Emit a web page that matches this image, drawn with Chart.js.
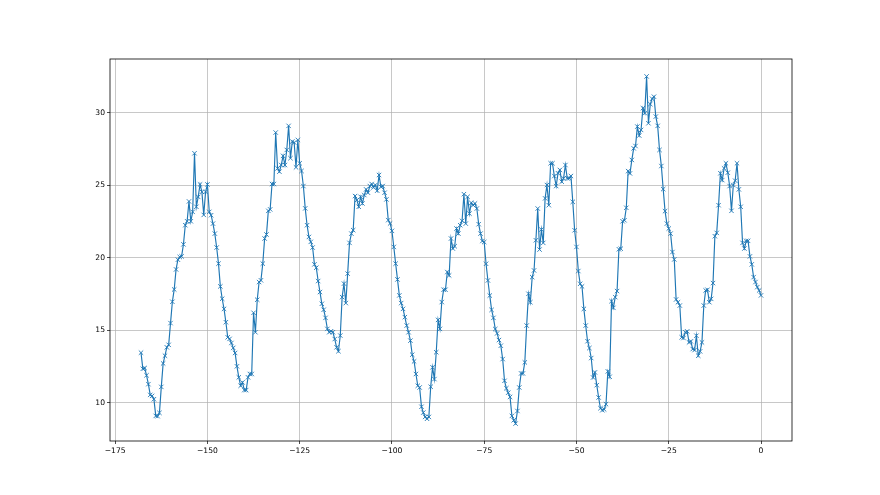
<!DOCTYPE html>
<html>
<head>
<meta charset="utf-8">
<script src="https://cdn.jsdelivr.net/npm/chart.js@4.4.1/dist/chart.umd.min.js"></script>
<style>
  html, body { margin: 0; padding: 0; background: #fff; }
  #wrap { width: 880px; height: 495px; }
</style>
</head>
<body>
<div id="wrap"><canvas id="myChart" width="880" height="495"></canvas></div>
<script>
// half-hourly readings, last 7 days (hours before now)
var tStart = -168;
var tStep = 0.5;
var values = [
  13.46, 12.35, 12.4, 11.9, 11.29, 10.55, 10.48, 10.25, 9.1, 9.08, 9.31, 11.1, 12.72, 13.25, 13.83, 14.0,
  15.5, 16.97, 17.82, 19.2, 19.87, 20.06, 20.1, 20.93, 22.25, 22.52, 23.89, 22.52, 23.17, 27.21, 23.52, 24.2,
  25.06, 24.55, 22.96, 24.55, 25.06, 23.17, 22.94, 22.36,
  21.67, 20.71, 19.6, 18.03, 17.18, 16.48, 15.56, 14.52, 14.41, 14.13, 13.79, 13.44, 12.52, 11.76, 11.18, 11.41,
  10.88, 10.88, 11.76, 11.99, 11.99, 16.21, 14.87, 17.11, 18.33, 18.45, 19.6, 21.33, 21.61, 23.24, 23.34, 25.09,
  25.09, 28.64, 26.17, 25.94, 26.4, 27.03, 26.4, 27.44, 29.1, 26.87, 28.02,
  27.95, 26.24, 28.13, 26.52, 25.99, 24.95, 23.41, 22.25, 21.44, 21.1, 20.71, 19.55, 19.32, 18.4, 17.64, 16.83,
  16.42, 15.86, 15.1, 14.87, 14.94, 14.87, 14.4, 13.83, 13.56, 14.64, 17.29, 18.22, 16.88, 18.91, 21.03, 21.67,
  21.91, 24.26, 23.98, 23.52, 24.21, 23.75, 24.33, 24.72, 24.49, 24.95, 25.09, 24.86, 25.02,
  24.63, 25.71, 24.9, 24.95, 24.49, 24.03, 22.6, 22.37, 21.86, 20.75, 19.6, 18.51, 17.41, 16.88, 16.48, 15.91,
  15.33, 14.87, 14.29, 13.32, 12.86, 11.99, 11.18, 11.06, 9.73, 9.33, 9.03, 8.9, 9.03, 11.11, 12.45, 11.64,
  13.49, 15.72, 15.1, 16.95, 17.8, 17.8, 19.02, 18.79, 21.33, 20.64, 20.8, 22.02,
  21.67, 22.25, 22.55, 24.39, 22.36, 24.21, 23.05, 23.79, 23.63, 23.75, 23.4, 22.32, 21.67, 21.16, 21.09, 19.59,
  18.44, 17.4, 16.41, 15.86, 15.09, 14.79, 14.33, 13.94, 13.02, 11.52, 11.01, 10.7, 10.41, 9.1, 8.8, 8.57,
  9.44, 11.06, 12.03, 12.03, 12.79, 15.33, 17.52, 16.94, 18.67, 19.13, 21.21, 23.4,
  20.57, 21.95, 21.03, 24.1, 25.02, 23.63, 26.52, 26.52, 25.64, 24.95, 25.83, 26.06, 25.25, 25.48, 26.4, 25.48,
  25.48, 25.64, 23.86, 21.9, 20.75, 19.09, 18.21, 18.03, 16.48, 15.33, 14.25, 13.78, 13.09, 11.75, 12.1, 11.22,
  10.37, 9.63, 9.49, 9.55, 9.91, 12.17, 11.8, 17.01, 16.55, 17.29, 17.71,
  20.59, 20.63, 22.52, 22.59, 23.45, 25.98, 25.82, 26.75, 27.55, 27.71, 29.05, 28.43, 28.82, 30.32, 29.98, 32.51,
  29.28, 30.6, 30.97, 31.11, 29.74, 29.1, 27.44, 26.33, 24.74, 23.22, 22.36, 22.02, 21.67, 20.4, 19.89, 17.13,
  16.94, 16.71, 14.52, 14.47, 14.86, 14.93, 14.17, 14.24, 13.71, 13.64, 14.63, 13.25, 13.55, 14.17,
  16.71, 17.75, 17.8, 16.94, 17.17, 18.26, 21.49, 21.72, 23.63, 25.83, 25.36, 26.17, 26.52, 25.87, 24.95, 23.24,
  25.02, 25.32, 26.52, 24.72, 23.52, 21.03, 20.64, 21.17, 21.17, 20.1, 19.55, 18.67, 18.33, 17.98, 17.75, 17.41
];
var xTicks = [-175, -150, -125, -100, -75, -50, -25, 0];
var yTicks = [10, 15, 20, 25, 30];

var points = values.map(function (v, i) {
  return { x: tStart + i * tStep, y: v };
});

// matplotlib style: box around the axes
var frame = {
  id: "frame",
  afterDraw: function (chart) {
    var a = chart.chartArea;
    var c = chart.ctx;
    c.save();
    c.strokeStyle = "#000";
    c.lineWidth = 0.8;
    c.strokeRect(a.left, a.top, a.right - a.left, a.bottom - a.top);
    c.restore();
  },
};

var tickFont = { family: "DejaVu Sans", size: 7.6 };

const ctx = document.getElementById("myChart").getContext("2d");

const myChart = new Chart(ctx, {
  type: "line",
  data: {
    datasets: [
      {
        data: points,
        borderColor: "#1f77b4",
        borderWidth: 1.15,
        pointStyle: "crossRot",
        pointRadius: 3.1,
        pointBorderWidth: 0.9,
        pointBorderColor: "#1f77b4",
        pointBackgroundColor: "#1f77b4",
        tension: 0,
        fill: false,
      },
    ],
  },
  options: {
    responsive: false,
    animation: false,
    devicePixelRatio: 1,
    layout: { padding: { top: 59, right: 88, bottom: 0, left: 0 } },
    plugins: {
      legend: { display: false },
      tooltip: { enabled: false },
    },
    scales: {
      x: {
        type: "linear",
        min: -176.4,
        max: 8.4,
        afterBuildTicks: function (s) {
          s.ticks = xTicks.map(function (v) { return { value: v }; });
        },
        afterFit: function (s) { s.height = 54; },
        ticks: {
          font: tickFont,
          color: "#000",
          padding: 2,
          maxRotation: 0,
          callback: function (v) { return String(v).replace("-", "\u2212"); },
        },
        grid: { color: "#b0b0b0", lineWidth: 0.7, tickLength: 3, tickColor: "#000" },
        border: { display: false },
      },
      y: {
        min: 7.37,
        max: 33.71,
        afterBuildTicks: function (s) {
          s.ticks = yTicks.map(function (v) { return { value: v }; });
        },
        afterFit: function (s) { s.width = 110; },
        ticks: { font: tickFont, color: "#000", padding: 2 },
        grid: { color: "#b0b0b0", lineWidth: 0.7, tickLength: 3, tickColor: "#000" },
        border: { display: false },
      },
    },
  },
  plugins: [frame],
});
</script>
</body>
</html>
